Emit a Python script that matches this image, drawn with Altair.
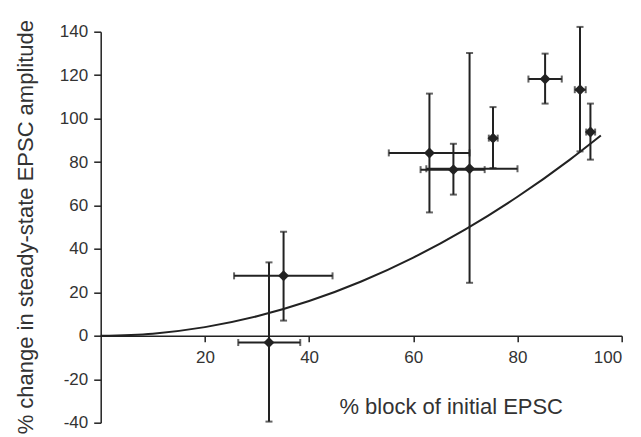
import altair as alt
import pandas as pd

# data
px = [32.3, 35.1, 63.1, 67.7, 70.8, 75.3, 85.3, 92.0, 94.0]
py = [-3.1, 27.6, 84.2, 76.5, 76.9, 91.0, 118.2, 113.3, 93.8]
x_lo = [26.4, 25.6, 55.3, 61.4, 62.5, 74.5, 82.1, 91.0, 93.2]
x_hi = [38.3, 44.5, 70.8, 73.7, 80.0, 76.2, 88.5, 93.1, 94.9]
y_lo = [-39.5, 7.0, 56.8, 65.0, 24.4, 77.2, 106.9, 84.9, 81.1]
y_hi = [33.8, 47.9, 111.5, 88.4, 130.2, 105.3, 129.9, 142.2, 106.9]

curve_x = [0, 10, 20, 30, 40, 50, 60, 70, 80, 90, 96]
curve_y = [0, 1, 4, 9, 16, 25, 36, 49, 64, 81, 92.2]

x_ticks = [20, 40, 60, 80, 100]
y_ticks = [-40, -20, 0, 20, 40, 60, 80, 100, 120, 140]

pts = pd.DataFrame({"x": px, "y": py, "xlo": x_lo, "xhi": x_hi, "ylo": y_lo, "yhi": y_hi})
curve = pd.DataFrame({"x": curve_x, "y": curve_y})

ink = "#222222"
FONT = "Liberation Sans"

xscale = alt.Scale(domain=[0, 100], nice=False)
yscale = alt.Scale(domain=[-40, 140], nice=False)

xaxis = alt.Axis(
    title="% block of initial EPSC", values=x_ticks, offset=-87,
    titleX=350, titleY=78, titleBaseline="alphabetic", titleAlign="center",
    labelExpr="toString(datum.value)",
)
yaxis = alt.Axis(
    title="% change in steady-state EPSC amplitude", values=y_ticks,
    titleX=-68, titleY=195, titleBaseline="alphabetic", titleAlign="center", titleAngle=270,
    labelExpr="toString(datum.value)",
)

X = alt.X("x:Q", scale=xscale, axis=xaxis)
Y = alt.Y("y:Q", scale=yscale, axis=yaxis)

base = alt.Chart(pts)

line = alt.Chart(curve).mark_line(color=ink, strokeWidth=2, interpolate="monotone").encode(x=X, y=Y)

vbar = base.mark_rule(color=ink, strokeWidth=2).encode(x="x:Q", y="ylo:Q", y2="yhi:Q")
hbar = base.mark_rule(color=ink, strokeWidth=2).encode(x="xlo:Q", x2="xhi:Q", y="y:Q")
cap_top = base.mark_tick(color=ink, thickness=2, size=7, orient="horizontal").encode(x="x:Q", y="yhi:Q")
cap_bot = base.mark_tick(color=ink, thickness=2, size=7, orient="horizontal").encode(x="x:Q", y="ylo:Q")
cap_l = base.mark_tick(color=ink, thickness=2, size=7, orient="vertical").encode(x="xlo:Q", y="y:Q")
cap_r = base.mark_tick(color=ink, thickness=2, size=7, orient="vertical").encode(x="xhi:Q", y="y:Q")
dots = base.mark_point(shape="diamond", filled=True, color=ink, size=120, opacity=1).encode(x="x:Q", y="y:Q")

chart = alt.layer(line, vbar, hbar, cap_top, cap_bot, cap_l, cap_r, dots).properties(
    width=521, height=391,
    autosize=alt.AutoSizeParams(type="none"),
    padding={"left": 92.7, "top": 23.7, "right": 11, "bottom": 14},
).configure_view(stroke=None).configure_axis(
    grid=False, domainColor=ink, domainWidth=1.5, tickColor=ink, tickWidth=1.5,
    labelFont=FONT, titleFont=FONT, labelFontSize=17, titleFontSize=22,
    labelColor="#333333", titleColor="#333333", titleFontWeight="normal",
).configure_axisY(tickSize=7, labelPadding=6).configure_axisX(tickSize=6, labelPadding=8)

chart.save("out.html", embed_options={"renderer": "svg", "actions": False})
